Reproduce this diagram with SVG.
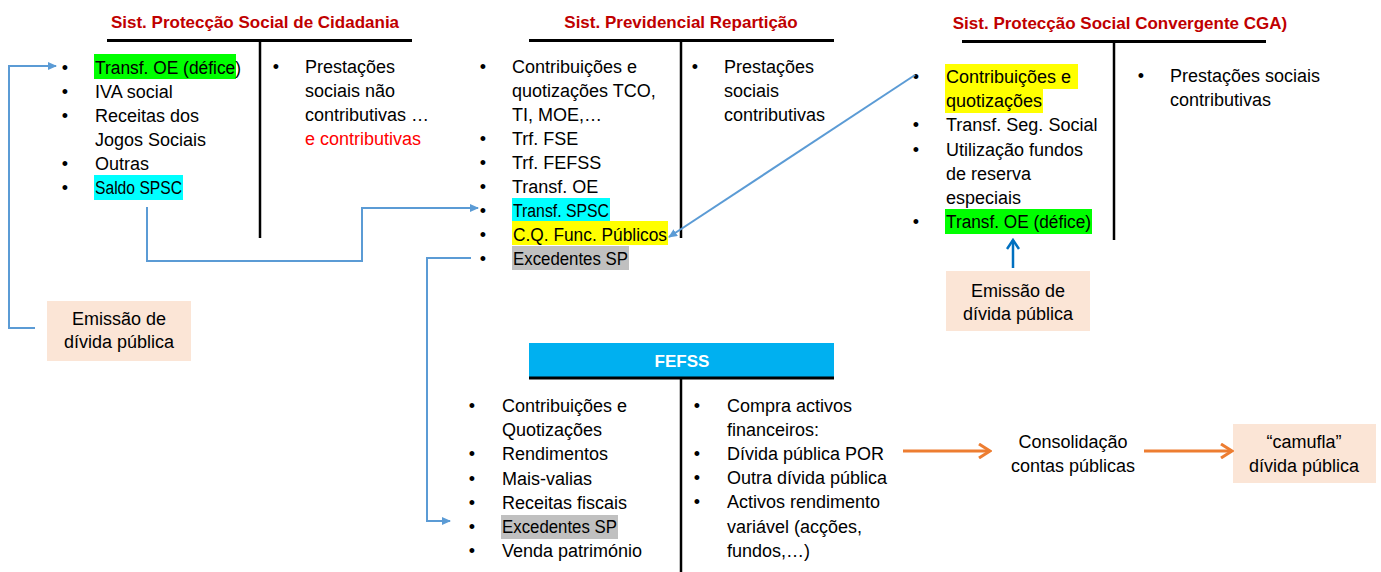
<svg xmlns="http://www.w3.org/2000/svg" width="1381" height="572" viewBox="0 0 1381 572">
<style>
text{font-family:"Liberation Sans",Arial,sans-serif;font-size:18px;fill:#000}
.h{font-weight:bold;font-size:17px;fill:#C00000;text-anchor:middle}
.m{text-anchor:middle}
.red{fill:#FF0000}
.ln{stroke:#000;stroke-width:3}
.vl{stroke:#000;stroke-width:2.5}
.c{stroke:#5B9BD5;stroke-width:2;fill:none}
.box{fill:#FBE5D6}
.g{fill:#00FF00}.y{fill:#FFFF00}.cy{fill:#00FFFF}.gr{fill:#C0C0C0}
</style>
<defs>
<marker id="tri" markerWidth="9" markerHeight="8" refX="8" refY="4" orient="auto" markerUnits="userSpaceOnUse"><path d="M0,0 L9,4 L0,8 z" fill="#5B9BD5"/></marker>
<marker id="vb" markerWidth="12" markerHeight="14" refX="10" refY="7" orient="auto" markerUnits="userSpaceOnUse"><path d="M1,1 L10,7 L1,13" fill="none" stroke="#0070C0" stroke-width="2.5"/></marker>
<marker id="vo" markerWidth="14" markerHeight="16" refX="12" refY="8" orient="auto" markerUnits="userSpaceOnUse"><path d="M1,1 L12,8 L1,15" fill="none" stroke="#ED7D31" stroke-width="3"/></marker>
</defs>
<rect width="1381" height="572" fill="#fff"/>

<g id="spsc">
<text class="h" x="255" y="28">Sist. Protecção Social de Cidadania</text>
<line class="ln" x1="107" y1="40.5" x2="412" y2="40.5"/>
<line class="vl" x1="260" y1="40" x2="260" y2="238"/>
<rect class="g" x="94" y="54" width="142" height="25"/>
<rect class="cy" x="94" y="175" width="89" height="25"/>
<text class="m" x="65" y="74">•</text><text x="95" y="74" textLength="146" lengthAdjust="spacingAndGlyphs">Transf. OE (défice)</text>
<text class="m" x="65" y="98">•</text><text x="95" y="98">IVA social</text>
<text class="m" x="65" y="122">•</text><text x="95" y="122">Receitas dos</text>
<text x="95" y="146">Jogos Sociais</text>
<text class="m" x="65" y="170">•</text><text x="95" y="170">Outras</text>
<text class="m" x="65" y="194">•</text><text x="95" y="194" textLength="87" lengthAdjust="spacingAndGlyphs">Saldo SPSC</text>
<text class="m" x="276" y="73">•</text><text x="305" y="73">Prestações</text>
<text x="305" y="97">sociais não</text>
<text x="305" y="121">contributivas …</text>
<text class="red" x="305" y="145">e contributivas</text>
</g>

<g id="spr">
<text class="h" x="681" y="28">Sist. Previdencial Repartição</text>
<line class="ln" x1="529" y1="40.5" x2="834" y2="40.5"/>
<line class="vl" x1="681" y1="40" x2="681" y2="238"/>
<rect class="cy" x="512" y="198" width="98" height="23"/>
<rect class="y" x="512" y="221" width="156" height="24"/>
<rect class="gr" x="512" y="246" width="117" height="24"/>
<text class="m" x="483" y="72.5">•</text><text x="512" y="72.5">Contribuições e</text>
<text x="512" y="96.5">quotizações TCO,</text>
<text x="512" y="120.5">TI, MOE,…</text>
<text class="m" x="483" y="144.5">•</text><text x="512" y="144.5">Trf. FSE</text>
<text class="m" x="483" y="168.5">•</text><text x="512" y="168.5">Trf. FEFSS</text>
<text class="m" x="483" y="192.5">•</text><text x="512" y="192.5">Transf. OE</text>
<text class="m" x="483" y="216.5">•</text><text x="513" y="216.5" textLength="96" lengthAdjust="spacingAndGlyphs">Transf. SPSC</text>
<text class="m" x="483" y="240.5">•</text><text x="513" y="240.5" textLength="154" lengthAdjust="spacingAndGlyphs">C.Q. Func. Públicos</text>
<text class="m" x="483" y="264.5">•</text><text x="513" y="264.5" textLength="115" lengthAdjust="spacingAndGlyphs">Excedentes SP</text>
<text class="m" x="695" y="73">•</text><text x="724" y="73">Prestações</text>
<text x="724" y="97">sociais</text>
<text x="724" y="121">contributivas</text>
</g>

<g id="cga">
<text class="h" x="1120" y="29">Sist. Protecção Social Convergente CGA)</text>
<line class="ln" x1="962" y1="41.5" x2="1266" y2="41.5"/>
<line class="vl" x1="1114" y1="41" x2="1114" y2="240"/>
<rect class="y" x="945" y="64" width="133" height="25"/>
<rect class="y" x="945" y="89" width="98" height="24"/>
<rect class="g" x="945" y="209" width="147" height="25"/>
<text class="m" x="916" y="83">•</text><text x="946" y="83">Contribuições e</text>
<text x="946" y="107.2">quotizações</text>
<text class="m" x="916" y="131.4">•</text><text x="946" y="131.4">Transf. Seg. Social</text>
<text class="m" x="916" y="155.6">•</text><text x="946" y="155.6">Utilização fundos</text>
<text x="946" y="179.8">de reserva</text>
<text x="946" y="204">especiais</text>
<text class="m" x="916" y="228.2">•</text><text x="946" y="228.2" textLength="145" lengthAdjust="spacingAndGlyphs">Transf. OE (défice)</text>
<text class="m" x="1141" y="82">•</text><text x="1170" y="82">Prestações sociais</text>
<text x="1170" y="106">contributivas</text>
</g>

<g id="emissao-cga">
<rect class="box" x="946" y="271" width="144" height="60"/>
<text class="m" x="1018" y="297">Emissão de</text>
<text class="m" x="1018" y="320">dívida pública</text>
</g>

<g id="emissao-spsc">
<rect class="box" x="47" y="301" width="144" height="60"/>
<text class="m" x="119" y="325">Emissão de</text>
<text class="m" x="119" y="348">dívida pública</text>
</g>

<g id="fefss">
<rect x="529" y="343" width="305" height="35" fill="#00B0F0"/>
<line class="ln" x1="529" y1="378" x2="834" y2="378"/>
<text x="682" y="367" class="m" style="font-weight:bold;font-size:17px;fill:#fff">FEFSS</text>
<line class="vl" x1="681" y1="378" x2="681" y2="572"/>
<rect class="gr" x="501" y="515" width="117" height="24"/>
<text class="m" x="472" y="412">•</text><text x="502" y="412">Contribuições e</text>
<text x="502" y="436.2">Quotizações</text>
<text class="m" x="472" y="460.4">•</text><text x="502" y="460.4">Rendimentos</text>
<text class="m" x="472" y="484.6">•</text><text x="502" y="484.6">Mais-valias</text>
<text class="m" x="472" y="508.8">•</text><text x="502" y="508.8">Receitas fiscais</text>
<text class="m" x="472" y="533">•</text><text x="502" y="533" textLength="115" lengthAdjust="spacingAndGlyphs">Excedentes SP</text>
<text class="m" x="472" y="557.2">•</text><text x="502" y="557.2">Venda património</text>
<text class="m" x="697" y="411.5">•</text><text x="727" y="411.5">Compra activos</text>
<text x="727" y="435.7">financeiros:</text>
<text class="m" x="697" y="459.9">•</text><text x="727" y="459.9">Dívida pública POR</text>
<text class="m" x="697" y="484.1">•</text><text x="727" y="484.1">Outra dívida pública</text>
<text class="m" x="697" y="508.3">•</text><text x="727" y="508.3">Activos rendimento</text>
<text x="727" y="532.5">variável (acções,</text>
<text x="727" y="556.7">fundos,…)</text>
</g>

<g id="consolidacao">
<text class="m" x="1073" y="448">Consolidação</text>
<text class="m" x="1073" y="472">contas públicas</text>
</g>

<g id="camufla">
<rect class="box" x="1233" y="424" width="143" height="59"/>
<text class="m" x="1304" y="448">“camufla”</text>
<text class="m" x="1304" y="472">dívida pública</text>
</g>

<g id="connectors">
<path class="c" d="M35,328 H9 V66 H56" marker-end="url(#tri)"/>
<path class="c" d="M147,207 V261 H362 V208 H478" marker-end="url(#tri)"/>
<path class="c" d="M471,258 H427 V521 H450" marker-end="url(#tri)"/>
<path class="c" d="M915,75 L669,237" marker-end="url(#tri)"/>
<path d="M1013,268 V240" stroke="#0070C0" stroke-width="2.5" fill="none" marker-end="url(#vb)"/>
<path d="M903,451 H990" stroke="#ED7D31" stroke-width="3" fill="none" marker-end="url(#vo)"/>
<path d="M1144,451 H1232" stroke="#ED7D31" stroke-width="3" fill="none" marker-end="url(#vo)"/>
</g>
</svg>
